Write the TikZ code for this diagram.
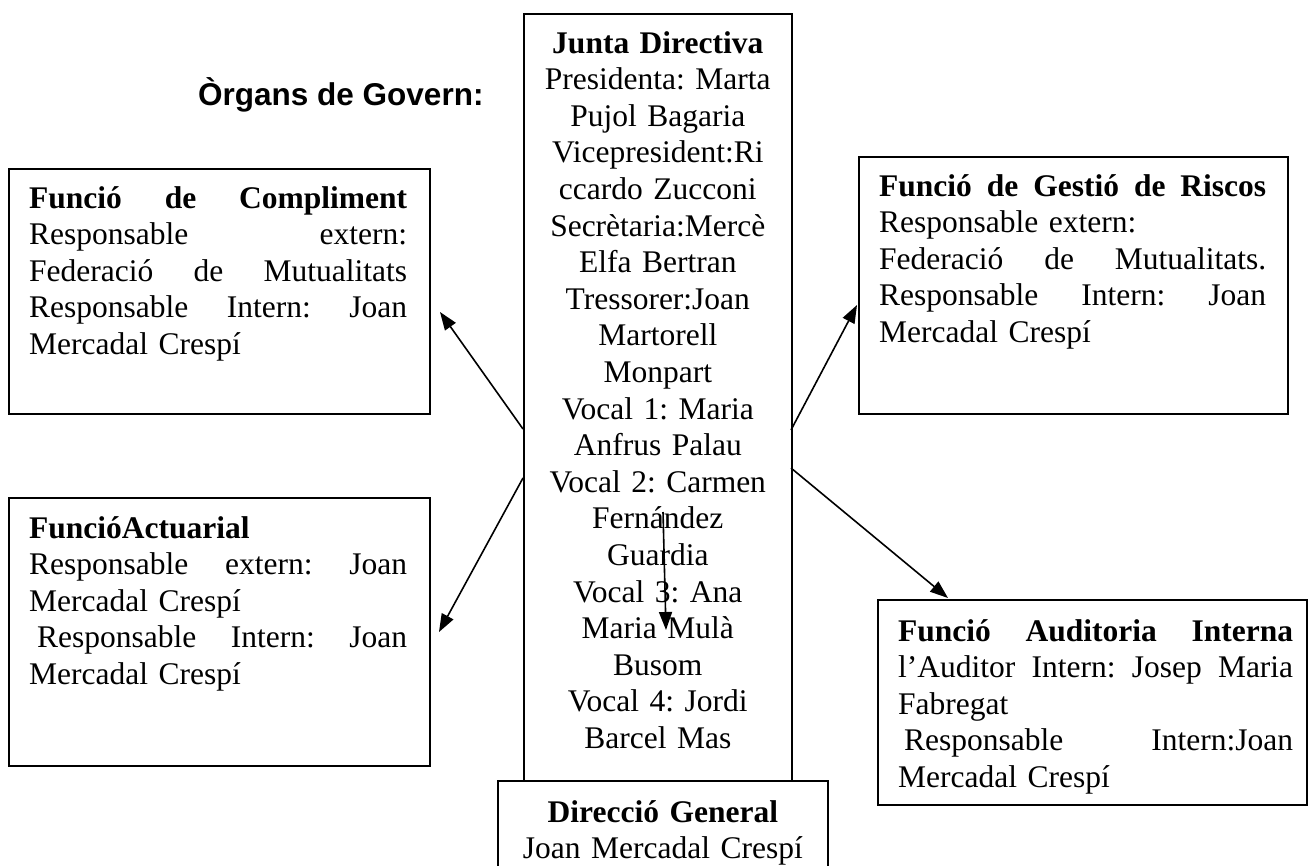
\documentclass[tikz,border=0pt]{standalone}
\usepackage{fontspec}
\setmainfont{Liberation Serif}
\newfontfamily\headfont{Liberation Sans}
\usetikzlibrary{arrows.meta,calc}
\newcommand\bodysize{\fontsize{31.5}{36.6}\selectfont\frenchspacing}
\newcommand\jl[2]{\leavevmode\hbox to #1{\spaceskip=.25em plus 1fil\relax #2}}
\tikzset{
  boxnode/.style={draw, line width=1.6pt, fill=white, inner sep=0pt, anchor=north west},
  txtnode/.style={inner sep=0pt, anchor=base west, align=left, font=\bodysize},
  ctrnode/.style={inner sep=0pt, anchor=base, align=center, font=\bodysize},
  arr/.style={-{Triangle[length=18pt,width=13pt]}, line width=1.6pt}
}
\begin{document}
\frenchspacing
\begin{tikzpicture}[x=1pt,y=-1pt]
\useasboundingbox (0,0) rectangle (1308,865);
% heading
\node[anchor=base west, inner sep=0pt, font=\headfont\bfseries\fontsize{31.5}{36}\selectfont] (head) at (198,105) {Òrgans de Govern:};
% central box
\node[boxnode, minimum width=268pt, minimum height=767pt] (jd) at (523,13) {};
\node[ctrnode, text width=268pt] (jdT) at ($(jd.north)+(0,40)$) {\textbf{Junta Directiva}\\
Presidenta: Marta\\
Pujol Bagaria\\
Vicepresident:Ri\\
ccardo Zucconi\\
Secrètaria:Mercè\\
Elfa Bertran\\
Tressorer:Joan\\
Martorell\\
Monpart\\
Vocal 1: Maria\\
Anfrus Palau\\
Vocal 2: Carmen\\
Fernández\\
Guardia\\
Vocal 3: Ana\\
Maria Mulà\\
Busom\\
Vocal 4: Jordi\\
Barcel Mas};
% direccio general
\node[boxnode, minimum width=330pt, minimum height=130pt] (dg) at (497,780) {};
\node[ctrnode, text width=330pt] (dgT) at ($(dg.north)+(0,42)$) {\textbf{Direcció General}\\
Joan Mercadal Crespí};
% left top
\node[boxnode, minimum width=421pt, minimum height=245pt] (comp) at (8,168) {};
\node[txtnode, text width=378pt] (compT) at ($(comp.north west)+(21,40)$) {\jl{378pt}{\textbf{Funció de Compliment}}\\
\jl{378pt}{Responsable extern:}\\
\jl{378pt}{Federació de Mutualitats}\\
\jl{378pt}{Responsable Intern: Joan}\\
Mercadal Crespí};
% left bottom
\node[boxnode, minimum width=421pt, minimum height=268pt] (act) at (8,497) {};
\node[txtnode, text width=378pt] (actT) at ($(act.north west)+(21,41)$) {\textbf{FuncióActuarial}\\
\jl{378pt}{Responsable extern: Joan}\\
Mercadal Crespí\\
\jl{378pt}{\kern8pt Responsable Intern: Joan}\\
Mercadal Crespí};
% right top
\node[boxnode, minimum width=429pt, minimum height=257pt] (ris) at (858,156) {};
\node[txtnode, text width=387pt] (risT) at ($(ris.north west)+(21,40)$) {\jl{387pt}{\textbf{Funció de Gestió de Riscos}}\\
Responsable extern:\\
\jl{387pt}{Federació de Mutualitats.}\\
\jl{387pt}{Responsable Intern: Joan}\\
Mercadal Crespí};
% right bottom
\node[boxnode, minimum width=429pt, minimum height=205pt] (aud) at (877,599) {};
\node[txtnode, text width=395pt] (audT) at ($(aud.north west)+(21,42)$) {\jl{395pt}{\textbf{Funció Auditoria Interna}}\\
\jl{395pt}{l’Auditor Intern: Josep Maria}\\
Fabregat\\
\jl{395pt}{\kern6pt Responsable Intern:Joan}\\
Mercadal Crespí};
% arrow end points
\coordinate (s1) at (523,429); \coordinate (t1) at (440,312);
\coordinate (s2) at (523,478); \coordinate (t2) at (439,632);
\coordinate (s3) at (791,430); \coordinate (t3) at (857,305);
\coordinate (s4) at (791,468); \coordinate (t4) at (948,598);
\coordinate (s5) at (663,512); \coordinate (t5) at (666,630);
\draw[arr] (s1) -- (t1);
\draw[arr] (s2) -- (t2);
\draw[arr] (s3) -- (t3);
\draw[arr] (s4) -- (t4);
\draw[arr] (s5) -- (t5);
\end{tikzpicture}
\end{document}
